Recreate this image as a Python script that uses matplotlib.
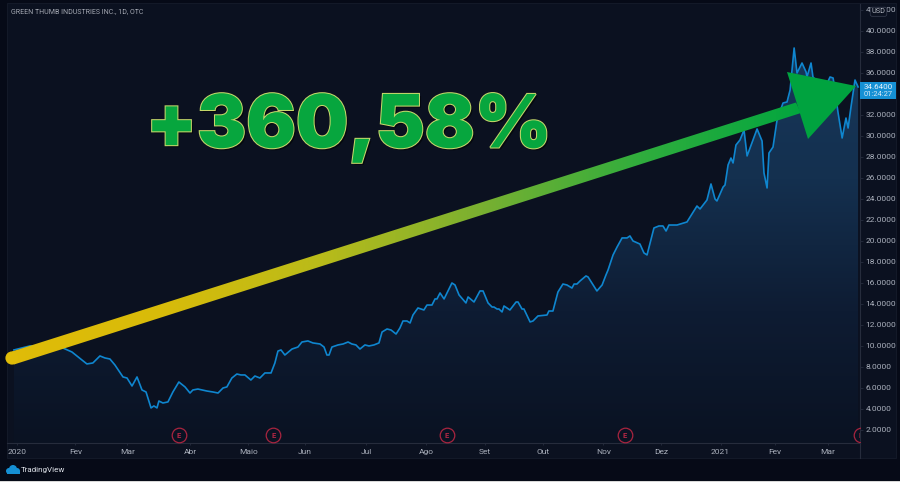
import numpy as np
import matplotlib
matplotlib.use("Agg")
import matplotlib.pyplot as plt
import matplotlib.patheffects as pe
from matplotlib.colors import LinearSegmentedColormap
from matplotlib.patches import Rectangle, Polygon, Circle, FancyBboxPatch, PathPatch
from matplotlib.path import Path

plt.rcParams["font.family"] = ["Roboto", "DejaVu Sans"]

# days since 2020-01-01 and close price
days = [0, 8.3, 16.1, 25.5, 30.2, 35.4, 38, 41.1, 44.8, 47.4, 50, 52.6, 56.8, 58.9, 61.5, 64.1, 66.7, 68.8,
        71.4, 72.9, 74.5, 75.5, 77.6, 80.2, 82.8, 85.9, 89.1, 91.7, 93.2, 95.8, 100.5, 103.6, 106.3, 108.9,
        110.9, 113.5, 116.1, 118.2, 120.3, 123.4, 125.5, 128.1, 130.7, 133.9, 135.9, 137.5, 139.1, 141.1,
        144.8, 147.9, 150, 153.1, 155.7, 159.4, 161.5, 163, 164.1, 165.6, 168.8, 171.4, 174, 176, 178.1,
        180.2, 182.8, 184.9, 187.5, 190.1, 191.7, 194.3, 196.4, 199, 201, 202.6, 204.7, 206.3, 207.8, 210.4,
        213.5, 215.1, 217.7, 219.3, 220.3, 221.9, 224, 228.1, 229.7, 231.8, 235.4, 236.5, 239.6, 242.7,
        244.3, 246.9, 249, 250, 251.6, 252.6, 254.2, 255.2, 258.3, 261.5, 262.5, 264.6, 265.6, 268.8, 270.3,
        272.9, 277.6, 278.6, 280.7, 283.3, 285.9, 288, 290.6, 291.7, 293.2, 294.8, 297.9, 299, 301.6, 303.6,
        306.3, 308.3, 309.4, 312, 314.1, 316.7, 319.3, 320.8, 322.4, 326, 328.1, 329.7, 333.3, 335.9, 338,
        339.6, 341.1, 345.3, 350.5, 355.7, 357.3, 360.9, 363, 365.1, 366.1, 369.3, 370.3, 371.9, 373.4,
        374.5, 376, 378.1, 380.2, 381.8, 387, 389.6, 390.6, 392.2, 393.2, 395.3, 397.4, 400.5, 402.6, 404.2,
        406.3, 407.8, 410.4, 412.5, 413, 415.1, 416.1, 419.8, 422.4, 425, 426.6, 429.2, 431.3, 433.3, 434.4,
        435.9, 438, 439.6]
close = [9.62, 10.0, 10.0, 9.81, 9.43, 8.67, 8.29, 8.38, 9.05, 8.86, 8.76, 8.19, 7.05, 6.95, 6.19, 7.05, 5.81, 5.62,
         4.10, 4.29, 4.10, 4.76, 4.57, 4.67, 5.62, 6.57, 6.10, 5.52, 5.81, 5.90, 5.71, 5.62, 5.52, 6.00,
         6.10, 6.95, 7.33, 7.24, 7.24, 6.76, 7.14, 6.95, 7.43, 7.43, 8.38, 9.52, 9.62, 9.14,
         9.71, 9.90, 10.38, 10.48, 10.29, 10.19, 9.90, 9.14, 9.14, 9.90, 10.10, 10.19, 10.38, 10.19, 10.10,
         9.71, 10.10, 10.0, 10.10, 10.29, 11.33, 11.62, 11.52, 11.14, 11.71, 12.38, 12.38, 12.19, 12.95, 13.62,
         13.43, 13.90, 13.90, 14.48, 14.48, 15.05, 14.48, 16.0, 15.81, 14.86, 14.10, 14.67, 14.19, 15.24,
         15.24, 14.10, 13.71, 13.71, 13.52, 13.52, 13.24, 13.81, 13.43, 14.19, 14.19, 13.52, 13.52, 12.29, 12.38,
         12.86, 12.95, 13.33, 13.33, 15.14, 15.90, 15.81, 15.52, 15.90, 15.90, 16.19, 16.67, 16.57, 15.81, 15.24,
         15.81, 16.76, 17.24, 18.67, 19.43, 20.29, 20.29, 20.48, 20.0, 19.71, 18.86, 18.67, 21.24, 21.43, 21.43,
         20.95, 21.52, 21.52, 21.81, 23.33, 23.05, 23.90, 25.43, 24.0, 23.81, 25.14, 25.33, 27.24, 27.90,
         27.43, 29.14, 29.62, 30.57, 28.10, 30.67, 29.52, 26.48, 25.05, 28.38, 28.95, 31.52, 33.14, 33.24, 34.38,
         38.38, 36.0, 36.95, 36.10, 35.62, 36.95, 35.62, 34.86, 34.57, 35.62, 35.52, 32.19, 29.81, 31.71, 30.76,
         32.76, 35.33, 34.67]

month_days = [1.5, 32, 59, 91.7, 122, 151.6, 183.3, 214.6, 245.3, 275.5, 307, 337, 368, 396.4, 424]
month_labels = ["2020", "Fev", "Mar", "Abr", "Maio", "Jun", "Jul", "Ago", "Set", "Out", "Nov", "Dez", "2021", "Fev", "Mar"]
price_ticks = list(range(2, 44, 2))
earnings_days = [86, 135, 225.5, 318, 441]

W, H = 900, 482
fig = plt.figure(figsize=(W / 100, H / 100), dpi=100, facecolor="#060a17")


def px_axes(z):
    a = fig.add_axes([0, 0, 1, 1], zorder=z)
    a.set_xlim(0, W); a.set_ylim(H, 0); a.axis("off"); a.patch.set_alpha(0)
    return a


back = px_axes(0)
back.add_patch(Rectangle((7, 3), 889, 455, fc="#0b1120", ec="#161c2b", lw=0.6))
back.add_patch(Rectangle((0, 480.6), W, 2, fc="#d8d8d8", ec="none"))

# main chart, placed in pixels: x 7..860, y 4..443
ax = fig.add_axes([7 / W, 1 - 443 / H, 853 / W, 439 / H], zorder=1)
ax.patch.set_alpha(0)
ax.set_xlim(-3.6, 440.6)
ax.set_ylim(0.76, 42.57)

area = ax.fill_between(days, close, 0.76, color="none", lw=0)
cm_area = LinearSegmentedColormap.from_list("area", ["#0a1222", "#0e1c33", "#14304f", "#17375a"])
grad = np.linspace(0, 1, 256)[:, None]
im = ax.imshow(grad, origin="lower", extent=(-3.6, 440.6, 0.76, 38.4), aspect="auto", cmap=cm_area, zorder=1)
im.set_clip_path(Path(area.get_paths()[0].vertices), ax.transData)
ax.set_xlim(-3.6, 440.6)
ax.set_ylim(0.76, 42.57)
ax.plot(days, close, color="#0f86cf", lw=1.2, zorder=2, solid_joinstyle="round")

ax.yaxis.tick_right()
ax.set_yticks(price_ticks)
# the 34 label sits under the last-price tag
ax.set_yticklabels(["" if p == 34 else f"{p:.4f}" for p in price_ticks])
ax.set_xticks(month_days)
ax.set_xticklabels(month_labels)
ax.tick_params(axis="y", length=2, width=0.5, color="#2c3344", labelcolor="#aab0bc", labelsize=6, pad=2)
ax.tick_params(axis="x", length=1.5, width=0.5, color="#2c3344", labelcolor="#aab0bc", labelsize=6, pad=3)
for s in ["top", "left"]:
    ax.spines[s].set_visible(False)
for s in ["bottom", "right"]:
    ax.spines[s].set_color("#262c3c"); ax.spines[s].set_linewidth(0.8)

# earnings markers sit at fixed height above the time axis
et = ax.get_xaxis_transform()
for d in earnings_days:
    ax.plot([d], [0.018], marker="o", ms=10.5, mfc="none", mec="#a8243f", mew=0.9, transform=et, zorder=3)
    ax.text(d, 0.018, "E", color="#b52745", fontsize=5.5, fontweight="bold", ha="center", va="center",
            transform=et, clip_on=True, zorder=3)

top = px_axes(2)
top.text(11, 12, "GREEN THUMB INDUSTRIES INC., 1D, OTC", color="#a4a8b2", fontsize=5.05, va="center")
top.plot([860, 860], [443, 458], color="#262c3c", lw=0.8)

# USD badge and last-price tag
top.add_patch(FancyBboxPatch((871, 8), 15, 7.5, boxstyle="round,pad=0.8,rounding_size=2", fc="#0b1120", ec="#3a4052", lw=0.5))
top.text(878.5, 11.8, "USD", color="#b4b8c2", fontsize=5.2, ha="center", va="center")
top.add_patch(Rectangle((860, 82), 36, 17, fc="#1590d4", ec="none"))
top.text(878, 87, "34.6400", color="#e8f2fa", fontsize=5.8, ha="center", va="center")
top.text(878, 95, "01:24:27", color="#d5e8f6", fontsize=5.4, ha="center", va="center")

# gradient arrow shaft with round tail
shaft = Path([(12, 351.5), (796, 102.5), (801, 113), (14, 364.5), (12, 351.5)],
             [Path.MOVETO, Path.LINETO, Path.LINETO, Path.LINETO, Path.CLOSEPOLY])
cm_arrow = LinearSegmentedColormap.from_list(
    "arrow", ["#e0bc08", "#d8bb0a", "#b9bb1a", "#79b031", "#30ad3d", "#03a63f"])
sh = top.imshow(np.linspace(0, 1, 512)[None, :], extent=(3, 801, 370, 100), aspect="auto", cmap=cm_arrow, zorder=2)
sh.set_clip_path(PathPatch(shaft, transform=top.transData))
top.add_patch(Circle((12, 358), 6.6, fc="#e0bc08", ec="none", zorder=2))
top.set_xlim(0, W); top.set_ylim(H, 0)
head = Polygon([(787, 72), (856, 86), (808, 139)], closed=True, fc="#00a33f", ec="none", zorder=3)
top.add_patch(head)

# big return label
top.text(146, 147.5, "+360,58%", color="#07a63e", fontsize=53, fontweight="black", family=["Inter", "Liberation Sans"],
         ha="left", va="baseline", zorder=4,
         path_effects=[pe.SimplePatchShadow(offset=(1.5, -1.5), shadow_rgbFace="k", alpha=0.5),
                       pe.Stroke(linewidth=1.5, foreground="#c5d76a", joinstyle="miter"),
                       pe.Normal()])

# TradingView mark
for cx, cy, r in [(9, 471, 3), (13, 469, 4), (17, 471, 3)]:
    top.add_patch(Circle((cx, cy), r, fc="#1590d4", ec="none"))
top.add_patch(Rectangle((6.5, 471), 13, 3, fc="#1590d4", ec="none"))
top.text(21, 470, "TradingView", color="#dfe3ea", fontsize=5.8, va="center")

fig.savefig("out.png", dpi=100, facecolor=fig.get_facecolor())
